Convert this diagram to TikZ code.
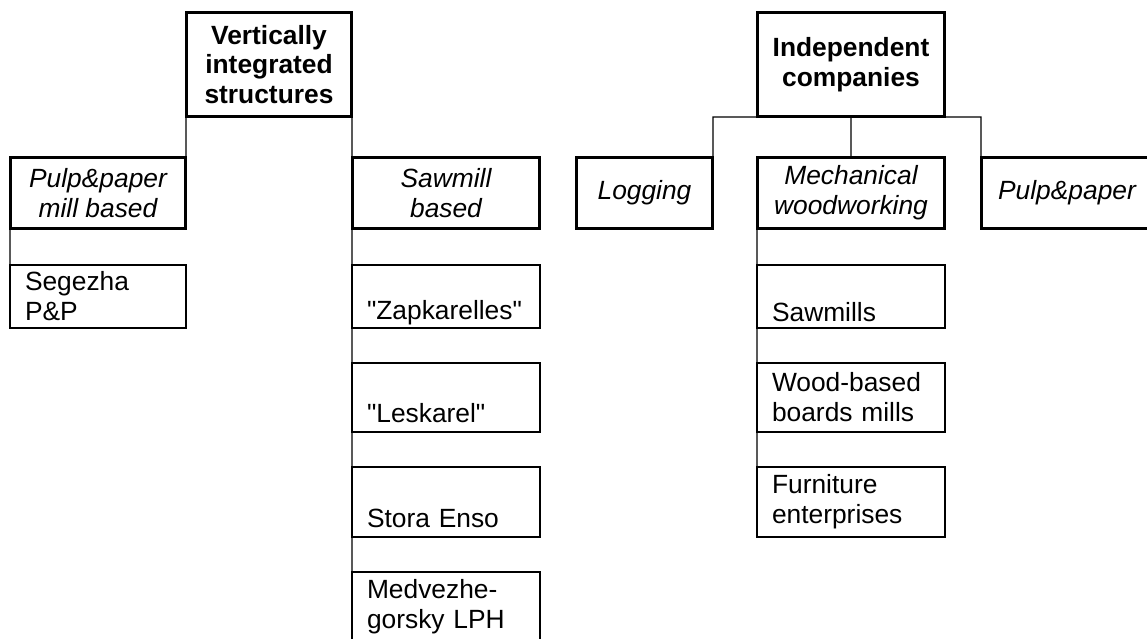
\documentclass[tikz,border=0pt]{standalone}
\usepackage{fontspec}
\setmainfont{Liberation Sans}
\usepackage{tikz}

\begin{document}
\begin{tikzpicture}[x=0.02cm,y=-0.02cm,
    font=\fontsize{15}{17}\selectfont,
    headbox/.style={draw,line width=0.06cm,font=\fontsize{15}{17}\selectfont\bfseries,align=center,minimum height=2.1cm,inner sep=0pt,outer sep=0pt},
    groupbox/.style={draw,line width=0.06cm,font=\fontsize{15}{17}\selectfont\itshape,align=center,minimum height=1.44cm,inner sep=0pt,outer sep=0pt},
    itembox/.style={draw,line width=0.6pt,align=left,inner xsep=0.3cm,inner ysep=0pt,outer sep=0pt}]
        \clip (0,0) rectangle (1147,639);
        \useasboundingbox (0,0) rectangle (1147,639);
        % top level
        \node[headbox,minimum width=3.32cm] (vis) at (269,64.5) {Vertically\\integrated\\structures};
        \node[headbox,minimum width=3.76cm] (ind) at (851,64.5) {Independent\\companies};
        % second level
        \node[groupbox,minimum width=3.52cm] (pmill) at (98,193) {Pulp\&paper\\mill based};
        \node[groupbox,minimum width=3.76cm] (saw) at (446,193) {Sawmill\\based};
        \node[groupbox,minimum width=2.74cm] (log) at (644.5,193) {Logging};
        \node[groupbox,minimum width=3.76cm] (mech) at (851,193) {Mechanical\\woodworking};
        \node[groupbox,minimum width=3.44cm] (pp) at (1067,193) {Pulp\&paper};
        % items
        \node[itembox,text width=2.92cm,minimum height=1.26cm] (seg) at (98,296.5) {Segezha\\P\&P};
        \node[itembox,text width=3.16cm,minimum height=1.26cm] (zap) at (446,296.5) {\strut\\\textquotedbl Zapkarelles\textquotedbl};
        \node[itembox,text width=3.16cm,minimum height=1.38cm] (les) at (446,397.5) {\strut\\\textquotedbl Leskarel\textquotedbl};
        \node[itembox,text width=3.16cm,minimum height=1.4cm] (sto) at (446,502) {\strut\\Stora Enso};
        \node[itembox,text width=3.16cm,minimum height=1.4cm] (med) at (446,607) {Medvezhe-\\gorsky LPH};
        \node[itembox,text width=3.16cm,minimum height=1.26cm] (sawm) at (851,296.5) {\strut\\Sawmills};
        \node[itembox,text width=3.16cm,minimum height=1.38cm] (wood) at (851,397.5) {Wood-based\\boards mills};
        \node[itembox,text width=3.16cm,minimum height=1.4cm] (furn) at (851,502) {Furniture\\enterprises};
        \draw[line width=0.6pt] (vis.south west) -- (pmill.north east)
              (vis.south east) -- (saw.north west)
              (pmill.south west) -- (seg.north west)
              (saw.south west) -- (med.north west)
              (log.north east) |- (pp.north west |- ind.south) -- (pp.north west)
              (ind.south) -- (mech.north)
              (mech.south west) -- (furn.north west);
      \end{tikzpicture}
\end{document}
